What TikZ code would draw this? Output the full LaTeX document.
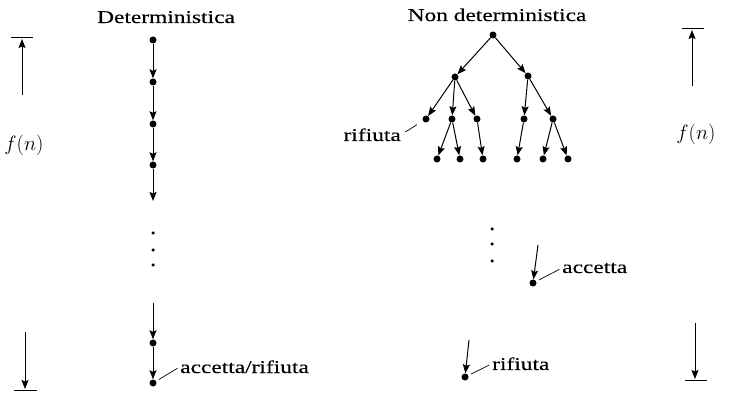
\documentclass[tikz,border=0pt]{standalone}
\usepackage{fontspec}
\setmainfont{Liberation Serif}[FakeStretch=1.3,FakeBold=0.25]
\usetikzlibrary{arrows.meta}
\begin{document}
\begin{tikzpicture}[x=1pt,y=-1pt,
  st/.style={circle,fill=black,inner sep=0pt,minimum size=7pt},
  dt/.style={circle,fill=black,inner sep=0pt,minimum size=3.5pt},
  ar/.style={line width=1pt,-{Stealth[length=9pt,width=7pt,inset=1.5pt]}},
  lead/.style={line width=0.7pt},
  bar/.style={line width=1pt},
  lbl/.style={inner sep=0pt,font=\fontsize{18}{21}\selectfont},
  fn/.style={inner sep=0pt,font=\fontsize{20}{24}\selectfont}]
\useasboundingbox (0,0) rectangle (731,403);
% titles
\node[lbl,anchor=base] (t1) at (166,23) {Deterministica};
\node[lbl,anchor=base] (t2) at (497,21) {Non deterministica};
% left scale
\coordinate (lt0) at (11,38); \coordinate (lt1) at (33,38);
\coordinate (la0) at (22,95); \coordinate (la1) at (22,39);
\draw[bar] (lt0) -- (lt1);
\draw[ar] (la0) -- (la1);
\node[fn] (lfn) at (24,145) {$f(n)$};
\coordinate (lb0) at (25,332); \coordinate (lb1) at (25,389);
\coordinate (lbl0) at (14,390); \coordinate (lbl1) at (37,390);
\draw[ar] (lb0) -- (lb1);
\draw[bar] (lbl0) -- (lbl1);
% right scale
\coordinate (rt0) at (682,29); \coordinate (rt1) at (704,29);
\coordinate (ra0) at (692,86); \coordinate (ra1) at (692,30);
\draw[bar] (rt0) -- (rt1);
\draw[ar] (ra0) -- (ra1);
\node[fn] (rfn) at (696,134) {$f(n)$};
\coordinate (rb0) at (695,323); \coordinate (rb1) at (695,379);
\coordinate (rbl0) at (685,380); \coordinate (rbl1) at (707,380);
\draw[ar] (rb0) -- (rb1);
\draw[bar] (rbl0) -- (rbl1);
% deterministic chain
\node[st] (d1) at (153,40) {};
\node[st] (d2) at (153,82) {};
\node[st] (d3) at (153,124) {};
\node[st] (d4) at (153,165) {};
\coordinate (d5) at (153,201);
\draw[ar] (d1) -- (d2);
\draw[ar] (d2) -- (d3);
\draw[ar] (d3) -- (d4);
\draw[ar] (d4) -- (d5);
\node[dt] (ld1) at (153,233) {};
\node[dt] (ld2) at (153,250) {};
\node[dt] (ld3) at (153,265) {};
\coordinate (d6) at (153,303);
\node[st] (d7) at (153,343) {};
\node[st] (d8) at (153,383) {};
\draw[ar] (d6) -- (d7);
\draw[ar] (d7) -- (d8);
\node[lbl,anchor=base west] (ar1) at (180,373) {accetta/rifiuta};
\draw[lead,shorten <=3pt,shorten >=3pt] (d8) -- (ar1.west);
% nondeterministic tree
\node[st] (r) at (493,35) {};
\node[st] (a) at (455,77) {};
\node[st] (b) at (528,76) {};
\node[st] (a1) at (426,119) {};
\node[st] (a2) at (452,119) {};
\node[st] (a3) at (477,119) {};
\node[st] (b1) at (524,119) {};
\node[st] (b2) at (553,119) {};
\node[st] (a21) at (437,159) {};
\node[st] (a22) at (460,159) {};
\node[st] (a31) at (483,159) {};
\node[st] (b11) at (517,159) {};
\node[st] (b21) at (543,159) {};
\node[st] (b22) at (568,159) {};
\foreach \u/\v in {r/a,r/b,a/a1,a/a2,a/a3,b/b1,b/b2,a2/a21,a2/a22,a3/a31,b1/b11,b2/b21,b2/b22}
  \draw[ar] (\u) -- (\v);
\node[lbl,anchor=base east] (rf1) at (401,141) {rifiuta};
\draw[lead,shorten <=7pt,shorten >=5pt] (a1) -- (rf1.east);
\node[dt] (rd1) at (492,229) {};
\node[dt] (rd2) at (492,244) {};
\node[dt] (rd3) at (492,261) {};
\coordinate (ac0) at (538,245);
\node[st] (ac) at (533,283) {};
\draw[ar] (ac0) -- (ac);
\node[lbl,anchor=base west] (acl) at (562,273) {accetta};
\draw[lead,shorten <=3pt,shorten >=3pt] (ac) -- (acl.west);
\coordinate (rf0) at (469,340);
\node[st] (rf) at (465,377) {};
\draw[ar] (rf0) -- (rf);
\node[lbl,anchor=base west] (rfl) at (492,370) {rifiuta};
\draw[lead,shorten <=3pt,shorten >=3pt] (rf) -- (rfl.west);
\end{tikzpicture}
\end{document}
